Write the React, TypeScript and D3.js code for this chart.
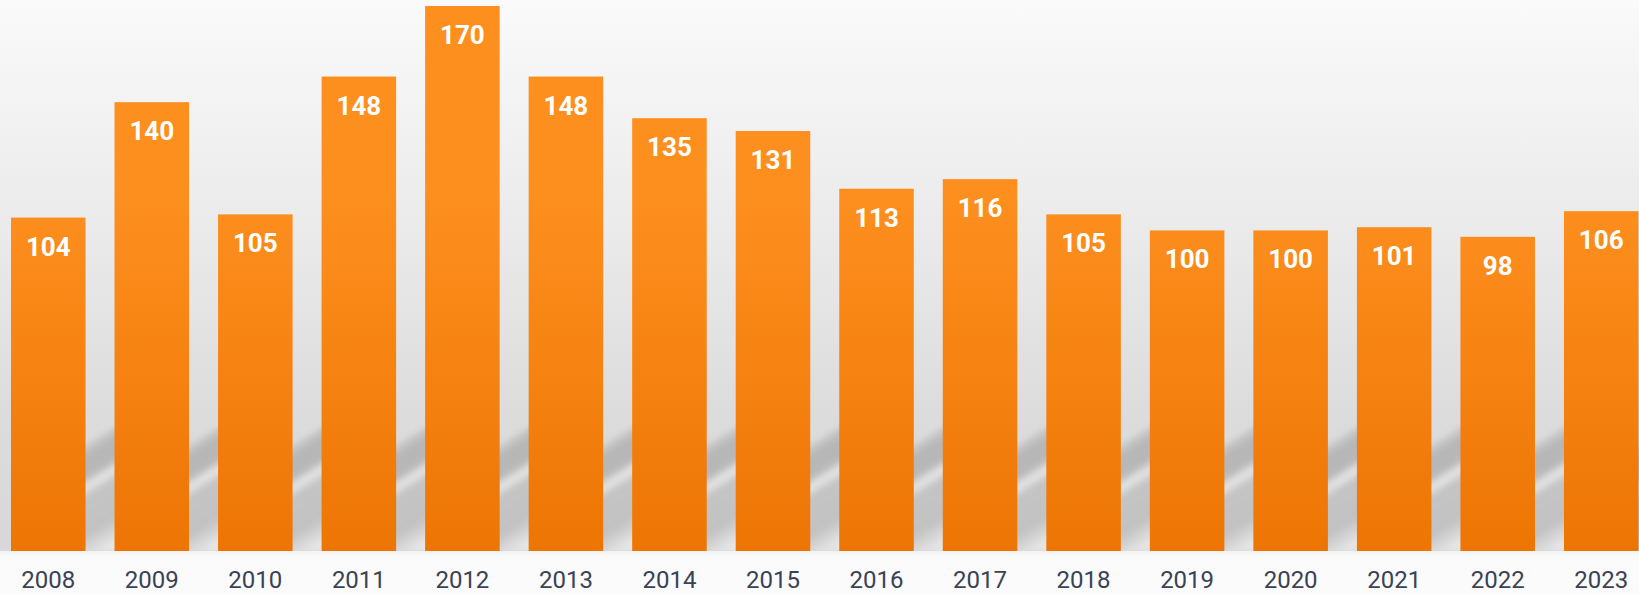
import React from "react";
import * as d3 from "d3";

const years = ["2008","2009","2010","2011","2012","2013","2014","2015","2016","2017","2018","2019","2020","2021","2022","2023"];
const values = [104, 140, 105, 148, 170, 148, 135, 131, 113, 116, 105, 100, 100, 101, 98, 106];

const W = 1639;
const H = 595;
const BASE = 551;

export default function App() {
  const x = d3.scaleBand<string>().domain(years).range([-3.5, 1653]).paddingInner(0.28).paddingOuter(0.14);
  const y = d3.scaleLinear().domain([0, 170]).range([BASE, 6]);
  const bw = x.bandwidth();
  const gapW = x.step() - bw;

  return (
    <svg width={W} height={H} style={{ position: "absolute", left: 0, top: 0, display: "block" }}>
      <defs>
        <linearGradient id="bg" x1="0" y1="0" x2="0" y2={BASE} gradientUnits="userSpaceOnUse">
          <stop offset="0" stopColor="#fafafa" />
          <stop offset="0.45" stopColor="#e9e9e9" />
          <stop offset="0.75" stopColor="#dcdcdc" />
          <stop offset="1" stopColor="#d8d8d8" />
        </linearGradient>
        <linearGradient id="bar" x1="0" y1="200" x2="0" y2={BASE} gradientUnits="userSpaceOnUse">
          <stop offset="0" stopColor="#fd8f1e" />
          <stop offset="1" stopColor="#ed7504" />
        </linearGradient>
        <linearGradient id="shadow" x1="0" y1="440" x2="68.6" y2="550.5" gradientUnits="userSpaceOnUse">
          <stop offset="0" stopColor="#dcdcdc" stopOpacity="0" />
          <stop offset="0.05" stopColor="#c8c8c8" stopOpacity="1" />
          <stop offset="0.12" stopColor="#b6b6b6" />
          <stop offset="0.24" stopColor="#b8b8b8" />
          <stop offset="0.31" stopColor="#e6e6e6" />
          <stop offset="0.38" stopColor="#c4c4c4" />
          <stop offset="0.62" stopColor="#c2c2c2" />
          <stop offset="0.78" stopColor="#e4e4e4" />
          <stop offset="1" stopColor="#f2f2f2" />
        </linearGradient>
        <linearGradient id="floor" x1="0" y1={BASE} x2="0" y2={H} gradientUnits="userSpaceOnUse">
          <stop offset="0" stopColor="#f3f3f3" />
          <stop offset="0.15" stopColor="#fafafa" />
          <stop offset="1" stopColor="#fbfbfb" />
        </linearGradient>
        <filter id="soft" x="-50%" y="-20%" width="200%" height="140%">
          <feGaussianBlur stdDeviation="2.5" />
        </filter>
        <clipPath id="wall">
          <rect x={0} y={0} width={W} height={BASE} />
        </clipPath>
      </defs>
      <rect x={0} y={0} width={W} height={BASE} fill="url(#bg)" />
      <rect x={0} y={BASE} width={W} height={H - BASE} fill="url(#floor)" />
      <g clipPath="url(#wall)">
        {years.map((yr) => {
          const gx = (x(yr) as number) + bw;
          return (
            <g key={"s" + yr} transform={`translate(${gx},0)`}>
              <rect x={-6} y={425} width={gapW + 12} height={BASE - 425} fill="url(#shadow)" filter="url(#soft)" />
            </g>
          );
        })}
      </g>
      {years.map((yr, i) => (
        <rect key={"b" + yr} x={x(yr)} y={y(values[i])} width={bw} height={BASE - y(values[i])} fill="url(#bar)" />
      ))}
      {years.map((yr, i) => (
        <text key={"v" + yr} x={(x(yr) as number) + bw / 2} y={y(values[i]) + 38} textAnchor="middle"
          fontFamily="Roboto, sans-serif" fontWeight="bold" fontSize={26} fill="#ffffff">
          {values[i]}
        </text>
      ))}
      {years.map((yr) => (
        <text key={"y" + yr} x={(x(yr) as number) + bw / 2} y={588} textAnchor="middle"
          fontFamily="Roboto, sans-serif" fontSize={24} fill="#3a4255">
          {yr}
        </text>
      ))}
    </svg>
  );
}
